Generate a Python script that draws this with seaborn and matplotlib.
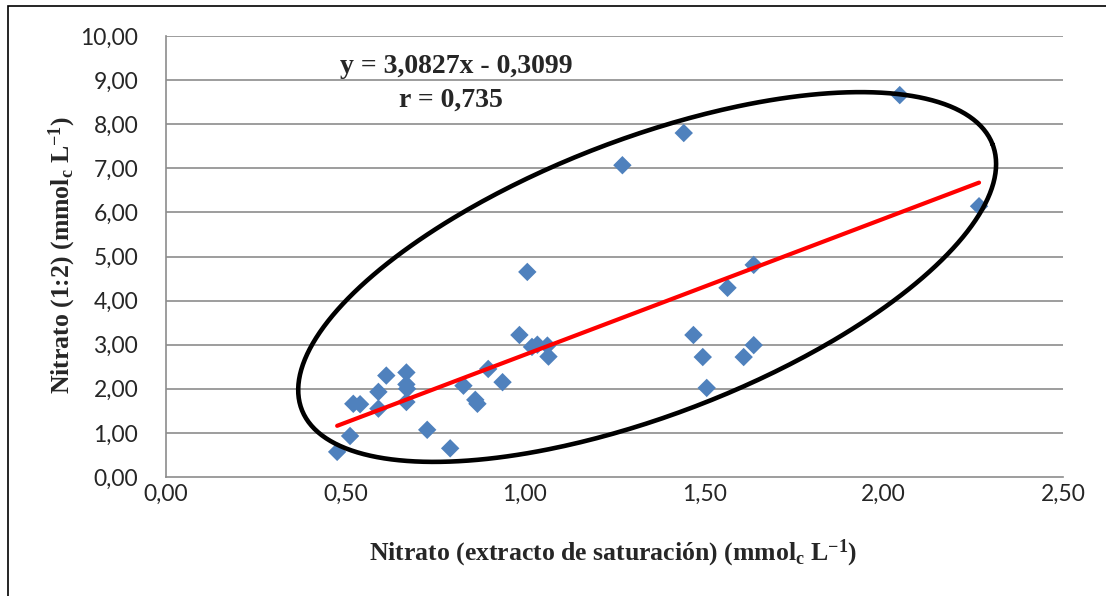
import numpy as np
import pandas as pd
import matplotlib
matplotlib.use("Agg")
import matplotlib.pyplot as plt
from matplotlib.patches import Rectangle
from matplotlib.ticker import FuncFormatter
import seaborn as sns

# ---- data ----
x_sat = [0.477, 0.513, 0.522, 0.541, 0.592, 0.592, 0.614, 0.670, 0.670, 0.672,
         0.670, 0.728, 0.792, 0.829, 0.862, 0.868, 0.898, 0.938, 0.985, 1.007,
         1.020, 1.035, 1.063, 1.066, 1.272, 1.443, 1.470, 1.496, 1.507, 1.565,
         1.610, 1.638, 1.638, 2.045, 2.266]
y_12 = [0.57, 0.93, 1.66, 1.65, 1.93, 1.55, 2.30, 2.37, 2.10, 2.00,
        1.70, 1.07, 0.65, 2.07, 1.75, 1.66, 2.45, 2.15, 3.22, 4.65,
        2.95, 3.00, 2.98, 2.73, 7.07, 7.80, 3.22, 2.72, 2.02, 4.29,
        2.72, 2.99, 4.81, 8.66, 6.14]
slope = 3.0827
intercept = -0.3099
eq_text = "y = 3,0827x - 0,3099"
r_text = "r = 0,735"
x_ticks = [0.0, 0.5, 1.0, 1.5, 2.0, 2.5]
y_ticks = [0, 1, 2, 3, 4, 5, 6, 7, 8, 9, 10]

df = pd.DataFrame({"x": x_sat, "y": y_12})

sns.set_style("white")
plt.rcParams["mathtext.fontset"] = "custom"
plt.rcParams["mathtext.rm"] = "Liberation Serif:bold"
plt.rcParams["mathtext.bf"] = "Liberation Serif:bold"
plt.rcParams["mathtext.it"] = "Liberation Serif:bold"

fig = plt.figure(figsize=(11.06, 5.96), dpi=100)
ax = fig.add_axes([166/1106, 1-477/596, (1063-166)/1106, (477-36)/596])

grid_col = "#8c8c8c"
for yv in y_ticks[1:]:
    ax.axhline(yv, color=grid_col, lw=1.2, zorder=0)

sns.scatterplot(data=df, x="x", y="y", marker="D", s=88, color="#4F81BD",
                edgecolor="none", linewidth=0, ax=ax, zorder=3)

xl = np.array([min(x_sat), max(x_sat)])
ax.plot(xl, slope*xl + intercept, color="#FF0000", lw=3.0, solid_capstyle="round", zorder=4)

ax.set_xlim(0, 2.5)
ax.set_ylim(0, 10)
ax.set_xticks(x_ticks)
ax.set_yticks(y_ticks)
fmt = FuncFormatter(lambda v, p: f"{v:.2f}".replace(".", ","))
ax.xaxis.set_major_formatter(fmt)
ax.yaxis.set_major_formatter(fmt)
for lab in ax.get_xticklabels() + ax.get_yticklabels():
    lab.set_fontfamily("Lato")
    lab.set_fontsize(16.5)
ax.tick_params(axis="x", length=0, pad=5)
ax.tick_params(axis="y", length=0, pad=20)

for s in ["top", "right"]:
    ax.spines[s].set_visible(False)
for s in ["left", "bottom"]:
    ax.spines[s].set_color(grid_col)
    ax.spines[s].set_linewidth(1.2)

ax.set_xlabel(r"Nitrato (extracto de saturación) (mmol$_\mathrm{c}$ L$^\mathrm{-1}$)",
              fontfamily="Liberation Serif", fontweight="bold", fontsize=18.5)
ax.set_ylabel(r"Nitrato (1:2) (mmol$_\mathrm{c}$ L$^\mathrm{-1}$)",
              fontfamily="Liberation Serif", fontweight="bold", fontsize=18.5)
ax.xaxis.set_label_coords(0.498, -0.172)
ax.yaxis.set_label_coords(-0.116, 0.503)
ax.xaxis.label.set_va("center")
ax.yaxis.label.set_va("center")

ax.text(0.809, 9.30, eq_text, ha="center", va="center", fontfamily="Liberation Serif",
        fontweight="bold", fontsize=20, zorder=6)
ax.text(0.795, 8.55, r_text, ha="center", va="center", fontfamily="Liberation Serif",
        fontweight="bold", fontsize=20, zorder=6)

# highlight ellipse (annotation), defined in display pixels around a data-space centre
fig.canvas.draw()
cx, cy = ax.transData.transform((1.341, 4.535))
a_px, b_px, th = 370.0, 138.0, np.deg2rad(21.0)
t = np.linspace(0, 2*np.pi, 400)
ex = cx + a_px*np.cos(t)*np.cos(th) - b_px*np.sin(t)*np.sin(th)
ey = cy + a_px*np.cos(t)*np.sin(th) + b_px*np.sin(t)*np.cos(th)
pts = ax.transData.inverted().transform(np.column_stack([ex, ey]))
ax.plot(pts[:, 0], pts[:, 1], color="black", lw=3.3, zorder=5, clip_on=False)

# outer chart border (left/top visible)
fig.patches.append(Rectangle((8/1106, -0.2), 1.5, 1.2 - 6/596, transform=fig.transFigure,
                             fill=False, edgecolor="black", lw=1.2))

fig.savefig("out.png", dpi=100)
